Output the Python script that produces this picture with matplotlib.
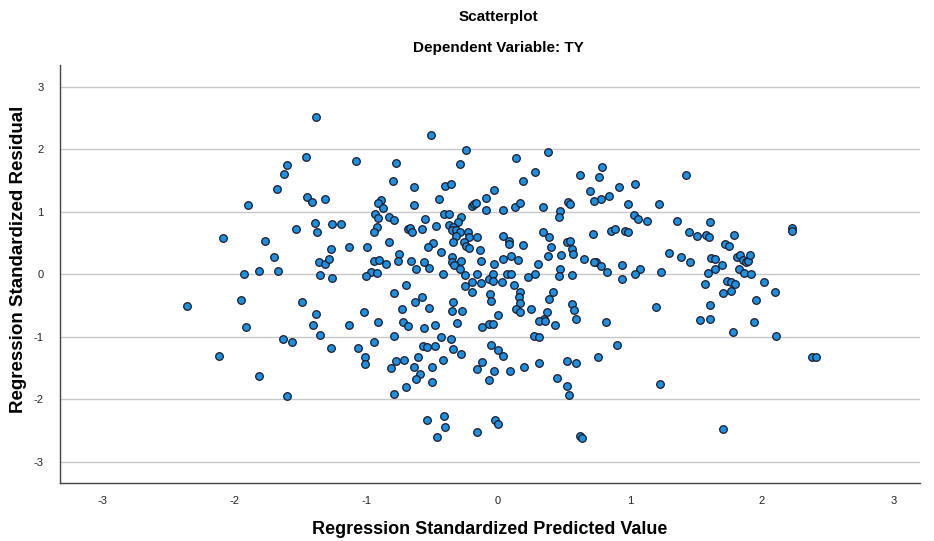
import matplotlib
matplotlib.use("Agg")
import matplotlib.pyplot as plt

plt.rcParams['font.family'] = ['Liberation Sans', 'DejaVu Sans']

predicted = [
    -1.38, -1.46, -1.60, -1.62, -1.68, -1.90, -1.45, -1.41, -1.31,
    -1.08, -0.77, -0.51, -0.24, -0.29, -0.80, -0.64, -0.40, -0.36, -0.03, -0.09,
    -0.45, -0.64, -0.89, -0.91, -0.87, -0.93, -0.91, -0.83, -0.79, -0.55, -0.41,
    -0.37, -0.28, -0.20, -0.18, -0.17, -0.09,
    0.14, 0.38, 0.28, 0.19, 0.62, 0.79, 0.77, 0.70, 0.92, 1.04, 0.84, 0.78, 0.73,
    0.99, 1.22, 0.04, 0.13, 0.17, 0.34, 0.53, 0.55, 0.47, 0.46, 1.03, 1.06, 1.13,
    1.43,
    -2.09, -1.77, -1.53, -1.39, -1.37, -1.26, -1.70, -1.27, -1.36, -1.31, -1.28,
    -1.93, -1.81, -1.67, -1.35, -1.26, -2.36, -1.95, -1.49, -1.38, -1.91, -1.40,
    -1.19, -0.30, -0.92, -0.94, -0.68, -0.67, -0.65, -0.58, -0.47, -0.37, -0.34,
    -0.35, -0.32, -0.29, -0.23, -0.22, -0.32, -0.26, -0.24, -0.16, -0.22, -0.34,
    -1.13, -0.99, -0.83, -0.49, -0.53, -0.43, -0.35, -0.14, -0.75, -0.76, -0.94,
    -0.90, -0.85, -0.66, -0.56, -0.52, -0.62, -0.35, -0.33, -0.28, -0.29, -0.13,
    -0.03, -0.96, -1.00, -0.92, -0.42, -0.25, -0.16, -0.07, -0.04, -0.04, -0.20,
    -0.25, -0.13, -0.70, -0.79, -0.20, -0.06, -0.05, -0.58, -0.63, -0.52, -0.34,
    -0.35, -0.27, -0.73, -1.02, 0.00, -1.13, -0.91, -0.72, -0.68, -0.56, -0.48,
    -0.31, -0.12, -0.07, -0.04,
    0.34, 0.39, 0.72, 0.86, 0.89, 0.96, 0.99, 0.04, 0.08, 0.08, 0.19, 0.40, 0.52,
    0.55, 0.56, 0.57, 0.38, 0.48, 0.65, 0.04, 0.10, 0.15, 0.74, 0.73, 0.78, 0.94,
    1.08, 1.04, 0.30, 0.47, 0.46, 0.28, 0.23, 0.07, 0.10, 0.56, 0.83, 0.94, 1.24,
    0.03, 0.12, 0.17, 0.16, 0.17, 0.42, 0.39, 0.56, 0.58, 0.14, 0.17, 0.25, 0.37,
    0.35, 0.31, 0.36, 0.43, 0.59, 0.82, 1.20,
    1.36, 1.61, 1.45, 1.51, 1.58, 1.60, 1.79, 2.23, 2.23, 1.72, 1.75, 1.30, 1.39,
    1.46, 1.62, 1.65, 1.70, 1.65, 1.81, 1.84, 1.86, 1.88, 1.90, 1.91, 1.83, 1.87,
    1.92, 1.59, 1.57, 1.74, 1.77, 1.80, 1.77, 1.71, 2.02, 2.10, 1.96, 1.61, 1.53,
    1.61, 1.94, 1.78,
    -1.63, -1.56, -1.35, -1.27, -2.12, -1.81, -1.60,
    -0.79, -0.94, -1.06, -1.01, -1.01, -0.57, -0.54, -0.48, -0.43, -0.36, -0.34,
    -0.28, -0.61, -0.77, -0.81, -0.71, -0.64, -0.59, -0.62, -0.50, -0.42, -0.50,
    -0.70, -0.79, -0.05, 0.00, -0.12, -0.16, -0.03, -0.07, -0.54, -0.41, -0.40,
    -0.46, -0.16, -0.02, 0.00,
    0.27, 0.31, 0.90, 0.04, 0.09, 0.20, 0.31, 0.52, 0.59, 0.76, 0.45, 0.52, 0.54,
    1.23, 0.62, 0.64,
    2.11, 2.38, 2.41, 1.71,
]

residual = [
    2.52, 1.88, 1.75, 1.60, 1.37, 1.11, 1.24, 1.16, 1.21,
    1.82, 1.78, 2.23, 1.99, 1.77, 1.50, 1.40, 1.42, 1.44, 1.35, 1.22,
    1.20, 1.11, 1.19, 1.14, 1.06, 0.97, 0.90, 0.92, 0.87, 0.89, 0.96,
    0.97, 0.92, 1.10, 1.13, 1.14, 1.03,
    1.86, 1.96, 1.63, 1.49, 1.59, 1.72, 1.56, 1.34, 1.39, 1.45, 1.26, 1.20, 1.18,
    1.13, 1.12, 1.03, 1.08, 1.14, 1.08, 1.15, 1.12, 1.02, 0.92, 0.95, 0.88, 0.86,
    1.59,
    0.58, 0.54, 0.73, 0.82, 0.68, 0.80, 0.28, 0.41, 0.19, 0.17, 0.24,
    0.00, 0.06, 0.06, -0.01, -0.06, -0.50, -0.41, -0.45, -0.64, -0.84, -0.81,
    0.80, 0.84, 0.76, 0.68, 0.72, 0.74, 0.68, 0.73, 0.78, 0.79, 0.76,
    0.71, 0.71, 0.68, 0.68, 0.59, 0.62, 0.52, 0.46, 0.60, 0.42, 0.52,
    0.44, 0.44, 0.51, 0.50, 0.44, 0.35, 0.28, 0.39, 0.32, 0.22, 0.22,
    0.23, 0.16, 0.22, 0.20, 0.10, 0.09, 0.19, 0.15, 0.22, 0.09, 0.22,
    0.17, 0.04, -0.03, 0.02, 0.00, -0.01, 0.00, -0.07, 0.00, -0.10, -0.12,
    -0.18, -0.14, -0.17, -0.30, -0.29, -0.32, -0.42, -0.36, -0.45, -0.54, -0.44,
    -0.58, -0.58, -0.56, -0.60, -0.65, -0.81, -0.76, -0.76, -0.83, -0.86, -0.81,
    -0.78, -0.84, -0.79, -0.79,
    0.68, 0.60, 0.65, 0.69, 0.73, 0.69, 0.68, 0.62, 0.54, 0.49, 0.47, 0.44, 0.52,
    0.54, 0.40, 0.32, 0.30, 0.31, 0.25, 0.25, 0.29, 0.23, 0.20, 0.19, 0.13, 0.15,
    0.09, 0.00, 0.16, 0.09, -0.02, 0.01, -0.04, 0.01, 0.01, -0.01, 0.04, -0.08, 0.04,
    -0.12, -0.17, -0.28, -0.36, -0.46, -0.28, -0.40, -0.47, -0.57, -0.56, -0.61, -0.56, -0.60,
    -0.72, -0.74, -0.74, -0.81, -0.72, -0.76, -0.52,
    0.86, 0.84, 0.68, 0.62, 0.63, 0.60, 0.63, 0.74, 0.70, 0.49, 0.46, 0.34, 0.28,
    0.20, 0.26, 0.24, 0.15, 0.09, 0.28, 0.31, 0.23, 0.19, 0.22, 0.31, 0.09, 0.02,
    0.00, 0.02, -0.15, -0.10, -0.13, -0.15, -0.26, -0.30, -0.12, -0.28, -0.41, -0.49, -0.73,
    -0.71, -0.76, -0.92,
    -1.04, -1.09, -0.97, -1.18, -1.30, -1.62, -1.94,
    -0.99, -1.08, -1.18, -1.33, -1.43, -1.15, -1.17, -1.14, -1.00, -1.04, -1.19,
    -1.27, -1.32, -1.38, -1.50, -1.37, -1.48, -1.59, -1.68, -1.48, -1.37, -1.72,
    -1.80, -1.92, -1.13, -1.21, -1.40, -1.51, -1.54, -1.69, -2.33, -2.26, -2.44,
    -2.61, -2.52, -2.33, -2.40,
    -0.99, -1.00, -1.13, -1.30, -1.54, -1.49, -1.42, -1.38, -1.42, -1.32, -1.66, -1.78, -1.93,
    -1.75, -2.58, -2.62,
    -0.98, -1.32, -1.32, -2.48,
]

x_ticks = [-3, -2, -1, 0, 1, 2, 3]
y_ticks = [-3, -2, -1, 0, 1, 2, 3]

fig = plt.figure(figsize=(9.34, 5.41), dpi=100)
ax = fig.add_axes([60/934, 1 - 483/541, 860/934, (483 - 65)/541])

ax.set_xlim(-3.323, 3.202)
ax.set_ylim(-3.34, 3.35)

ax.set_xticks(x_ticks)
ax.set_yticks(y_ticks)
ax.set_xticklabels([str(t) for t in x_ticks], fontsize=8)
ax.set_yticklabels([str(t) for t in y_ticks], fontsize=8)
ax.tick_params(axis='x', length=0, pad=9, colors='#222222')
ax.tick_params(axis='y', length=0, pad=12, colors='#222222')

ax.yaxis.grid(True, color='#c8c8c8', linewidth=1.0)
ax.xaxis.grid(False)
ax.set_axisbelow(True)

for side in ['top', 'right']:
    ax.spines[side].set_visible(False)
for side in ['left', 'bottom']:
    ax.spines[side].set_color('#444444')
    ax.spines[side].set_linewidth(1.0)

ax.scatter(predicted, residual, s=30, c='#1f8fe0', edgecolors='#1a1a2a',
           linewidths=0.9, zorder=3)

ax.set_xlabel('Regression Standardized Predicted Value', fontsize=13,
              fontweight='bold', labelpad=11)
ax.set_ylabel('Regression Standardized Residual', fontsize=13.5,
              fontweight='bold')
ax.yaxis.set_label_coords(-33/860, 0.535)

fig.text(498/934, 1 - 17/541, 'Scatterplot', ha='center', va='center',
         fontsize=11, fontweight='bold')
fig.text(498/934, 1 - 48/541, 'Dependent Variable: TY', ha='center', va='center',
         fontsize=11, fontweight='bold')

fig.savefig('out.png', dpi=100)
